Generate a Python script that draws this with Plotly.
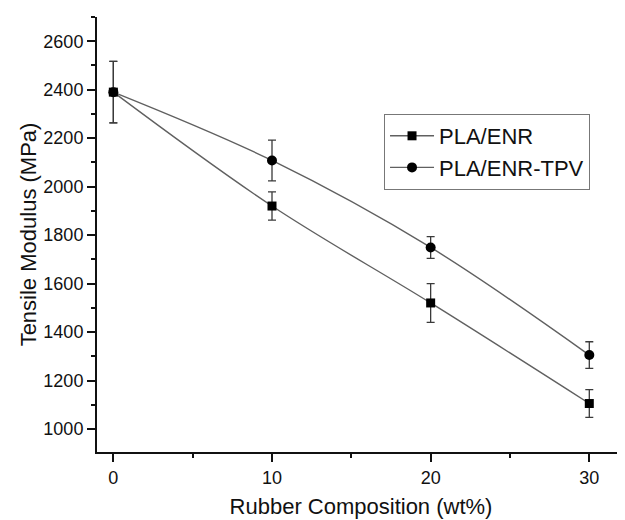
import plotly.graph_objects as go

# Data
rubber_wt = [0, 10, 20, 30]
enr_modulus = [2390, 1920, 1520, 1105]
enr_err = [127, 58, 80, 57]
tpv_modulus = [2390, 2108, 1749, 1305]
tpv_err = [127, 84, 45, 55]
series_names = ["PLA/ENR", "PLA/ENR-TPV"]
x_ticks = [0, 10, 20, 30]
y_ticks = [1000, 1200, 1400, 1600, 1800, 2000, 2200, 2400, 2600]

FONT = "Liberation Sans, Arial, sans-serif"
LINE_COLOR = "#606060"
ERR_COLOR = "#3a3a3a"
AX = "#111111"

fig = go.Figure()

fig.add_trace(go.Scatter(
    x=rubber_wt, y=enr_modulus, name=series_names[0],
    mode="lines+markers",
    line=dict(color=LINE_COLOR, width=1.4, shape="spline", smoothing=1),
    marker=dict(symbol="square", size=9, color="black"),
    error_y=dict(type="data", array=enr_err, visible=True,
                 color=ERR_COLOR, thickness=1.3, width=4),
))
fig.add_trace(go.Scatter(
    x=rubber_wt, y=tpv_modulus, name=series_names[1],
    mode="lines+markers",
    line=dict(color=LINE_COLOR, width=1.4, shape="spline", smoothing=1),
    marker=dict(symbol="circle", size=10, color="black"),
    error_y=dict(type="data", array=tpv_err, visible=True,
                 color=ERR_COLOR, thickness=1.3, width=4),
))

# page has an 8px body margin, so the figure is sized 617x512
fig.update_layout(
    width=617, height=512,
    margin=dict(l=89, r=0, t=9, b=68),
    paper_bgcolor="white", plot_bgcolor="white",
    font=dict(family=FONT, color=AX),
    legend=dict(
        x=0.5436, y=0.777, xanchor="left", yanchor="top",
        bordercolor="#777777", borderwidth=1,
        font=dict(size=22, family=FONT, color=AX),
        bgcolor="white",
        tracegroupgap=0,
        itemwidth=44,
    ),
    showlegend=True,
)

fig.update_xaxes(
    range=[-1.03, 32.25], automargin=False,
    tickvals=x_ticks, ticktext=[str(v) for v in x_ticks],
    showgrid=False, zeroline=False,
    showline=True, linecolor=AX, linewidth=2,
    ticks="outside", ticklen=8, tickwidth=2, tickcolor=AX,
    minor=dict(dtick=5, tick0=0, ticks="outside", ticklen=4, tickwidth=2, tickcolor=AX),
    tickfont=dict(size=18, family=FONT, color=AX),
    title=dict(text="Rubber Composition (wt%)", font=dict(size=22, family=FONT, color=AX), standoff=12),
)
fig.update_yaxes(
    range=[905, 2700], automargin=False,
    tickvals=y_ticks, ticktext=[str(v) for v in y_ticks],
    showgrid=False, zeroline=False,
    showline=True, linecolor=AX, linewidth=2,
    ticks="outside", ticklen=8, tickwidth=2, tickcolor=AX,
    minor=dict(dtick=100, tick0=0, ticks="outside", ticklen=4, tickwidth=2, tickcolor=AX),
    tickfont=dict(size=18, family=FONT, color=AX),
    title=dict(text="Tensile Modulus (MPa)", font=dict(size=22, family=FONT, color=AX), standoff=1),
)

fig.write_html("out.html")
